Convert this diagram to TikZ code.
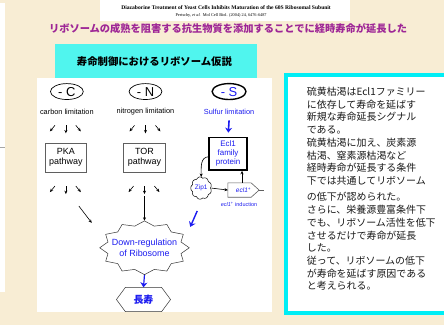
\documentclass[tikz,border=0pt]{standalone}
\usepackage{fontspec}
\setmainfont{Liberation Sans}
\newfontfamily\cjk{Noto Sans CJK JP}
\newfontfamily\tnr{Liberation Serif}
\usetikzlibrary{shapes.geometric,arrows.meta,calc}
\definecolor{bg}{RGB}{248,237,212}
\definecolor{cyanh}{RGB}{80,245,238}
\definecolor{cyanb}{RGB}{0,238,245}
\definecolor{purp}{RGB}{158,38,150}
\definecolor{dblue}{RGB}{28,28,240}
\definecolor{txt}{RGB}{25,25,25}
\definecolor{boxgray}{RGB}{95,95,95}
\begin{document}
\begin{tikzpicture}[x=1pt,y=-1pt,
  sarr/.style={-{Stealth[length=3.4pt,width=3pt]}, line width=0.6pt},
  barr/.style={-{Stealth[length=5pt,width=7pt]}, line width=1.6pt, dblue},
  lim/.style={font=\fontsize{7.4}{8}\selectfont, inner sep=0pt},
  cond/.style={ellipse, draw, line width=0.7pt, minimum width=33pt, minimum height=16pt, inner sep=0pt, font=\fontsize{13}{13}\selectfont},
  pbox/.style={draw=boxgray, line width=0.8pt, minimum width=42pt, minimum height=29pt, inner sep=0pt, align=center, font=\fontsize{9}{10}\selectfont},
  jline/.style={anchor=west, inner sep=0pt, text=txt, font=\cjk\fontsize{10}{12}\selectfont}]
\fill[bg] (0,0) rectangle (446,327);
\fill[white] (0,3) rectangle (5,293);
\draw[gray!70, line width=0.4pt] (0,148) -- (5,148);
% title
\fill[white] (100,0) rectangle (352,21);
\node[inner sep=0pt, font=\tnr\bfseries\fontsize{5.6}{6}\selectfont] (ttl) at (227,8) {Diazaborine Treatment of Yeast Cells Inhibits Maturation of the 60S Ribosomal Subunit};
\node[inner sep=0pt, font=\tnr\fontsize{4.3}{5}\selectfont] (ref) at (222,16) {Pertschy, \textit{et al.}\ \ Mol Cell Biol. (2004) 24, 6476-6487};
\node[inner sep=0pt, text=purp, font=\cjk\bfseries\fontsize{10.3}{12}\selectfont] (head) at (229,29) {リボソームの成熟を阻害する抗生物質を添加することでに経時寿命が延長した};
% panel
\fill[cyanh] (55,44) rectangle (258,79);
\fill[white] (37,78) rectangle (273,314);
\node[inner sep=0pt, font=\cjk\bfseries\fontsize{10.4}{12}\selectfont] (hyp) at (155,62) {寿命制御におけるリボソーム仮説};
% conditions
\node[cond] (C) at (67,92) {- C};
\node[cond] (N) at (146,92) {- N};
\node[cond, line width=1.4pt, text=dblue, minimum width=34pt] (S) at (230,92) {- S};
\node[lim] (Cl) at (67,112) {carbon limitation};
\node[lim] (Nl) at (146,112) {nitrogen limitation};
\node[lim, text=dblue] (Sl) at (230,112) {Sulfur limitation};
\foreach \cx/\yy in {66/126, 146/126, 66/187, 145/187} {
  \draw[sarr] (\cx-11,\yy) -- (\cx-16,\yy+6);
  \draw[sarr] (\cx,\yy) -- (\cx,\yy+8);
  \draw[sarr] (\cx+10,\yy) -- (\cx+15,\yy+6);
}
\node[pbox] (P) at (66,158.5) {PKA\\pathway};
\node[pbox] (T) at (145,158.5) {TOR\\pathway};
\node[draw, line width=1.4pt, minimum width=38pt, minimum height=33pt, inner sep=0pt, align=center, text=dblue, font=\fontsize{8}{9}\selectfont] (E) at (229,154.5) {Ecl1\\family\\protein};
\coordinate (sa) at (230,121);
\draw[barr, shorten >=4pt] (sa) -- (E.north);
% Zip1 cloud
\coordinate (zc) at (202,189);
\begin{scope}[shift={(zc)}]
\draw[line width=0.5pt, fill=white] plot[domain=0:360, samples=145] ({9.3*(1+0.13*abs(sin(4.5*\x)))*cos(\x)}, {10*(1+0.13*abs(sin(4.5*\x)))*sin(\x)}) -- cycle;
\end{scope}
\node[inner sep=0pt, minimum width=20pt, minimum height=22pt, text=dblue, font=\fontsize{6.5}{7}\selectfont] (Z) at (zc) {Zip1};
% ecl1+ signal
\node[inner sep=0pt, minimum width=31pt, minimum height=14pt, text=dblue, font=\itshape\fontsize{6.5}{7}\selectfont] (ecl) at (244.5,191) {ecl1\textsuperscript{+}\hspace{3pt}};
\draw[line width=0.6pt, draw=boxgray] (ecl.north west) -- ($(ecl.north east)+(-8,0)$) -- (ecl.east) -- ($(ecl.south east)+(-8,0)$) -- (ecl.south west) -- cycle;
\coordinate (eclt) at ($(ecl.east)+(5,0)$);
\draw[line width=0.6pt, draw=boxgray] (ecl.east) -- (eclt);
\node[inner sep=0pt, text=dblue, font=\fontsize{5.5}{6}\selectfont] (ind) at (240,205) {\textit{ecl1}\textsuperscript{+} induction};
\coordinate (vx) at (243,0);
\draw[sarr] ([yshift=-3pt]E.west) .. controls (201,158) and (202,168) .. (Z.north);
\draw[sarr] (Z.east) -- (ecl.west);
\draw[sarr] (ecl.north -| vx) -- (E.south -| vx);
% star
\coordinate (dc) at (145,249);
\begin{scope}[shift={(dc)}]
\draw[line width=0.5pt, black!80, fill=white] (0,-27) \foreach \k in {0,...,11} { -- ({38*cos(105+30*\k)},{-22.5*sin(105+30*\k)}) -- ({45*cos(120+30*\k)},{-27*sin(120+30*\k)}) } -- cycle;
\end{scope}
\node[inner sep=0pt, minimum width=90pt, minimum height=54pt, align=center, text=dblue, font=\fontsize{9}{12}\selectfont] (D) at (dc) {Down-regulation\\of Ribosome};
% arrows into star
\coordinate (pk1) at (79,207);
\coordinate (pk2) at (92,224);
\draw[sarr] (pk1) -- (pk2);
\coordinate (tr1) at (145,197);
\draw[sarr] (tr1) -- (D.north);
\coordinate (bl1) at (198,212);
\coordinate (bl2) at (191,228);
\draw[barr, line width=1.4pt] (bl1) -- (bl2);
% longevity
\node[inner sep=0pt, minimum width=54pt, minimum height=24pt, text=dblue, font=\cjk\bfseries\fontsize{10}{12}\selectfont] (L) at (144,301) {長寿};
\draw[line width=0.5pt, black!80] (L.west) -- ($(L.north west)+(9,0)$) -- ($(L.north east)+(-9,0)$) -- (L.east) -- ($(L.south east)+(-9,0)$) -- ($(L.south west)+(9,0)$) -- cycle;
\draw[barr, line width=1.2pt] (D.south) -- (L.north);
% text box
\fill[white] (287,75) rectangle (446,315);
\draw[cyanb, line width=4pt] (446,75) -- (287,75) -- (287,315) -- (446,315);
\foreach \t [count=\i] in {硫黄枯渇はEcl1ファミリー, に依存して寿命を延ばす, 新規な寿命延長シグナル, である。, 硫黄枯渇に加え、炭素源, 枯渇、窒素源枯渇など, 経時寿命が延長する条件, 下では共通してリボソーム} {
  \node[jline] (a\i) at (308,{92+12.8*(\i-1)}) {\t};
}
\foreach \t [count=\i] in {の低下が認められた。, さらに、栄養源豊富条件下, でも、リボソーム活性を低下, させるだけで寿命が延長, した。, 従って、リボソームの低下, が寿命を延ばす原因である, と考えられる。} {
  \node[jline] (b\i) at (308,{198+12.8*(\i-1)}) {\t};
}
\useasboundingbox (0,0) rectangle (446,327);
\end{tikzpicture}
\end{document}
